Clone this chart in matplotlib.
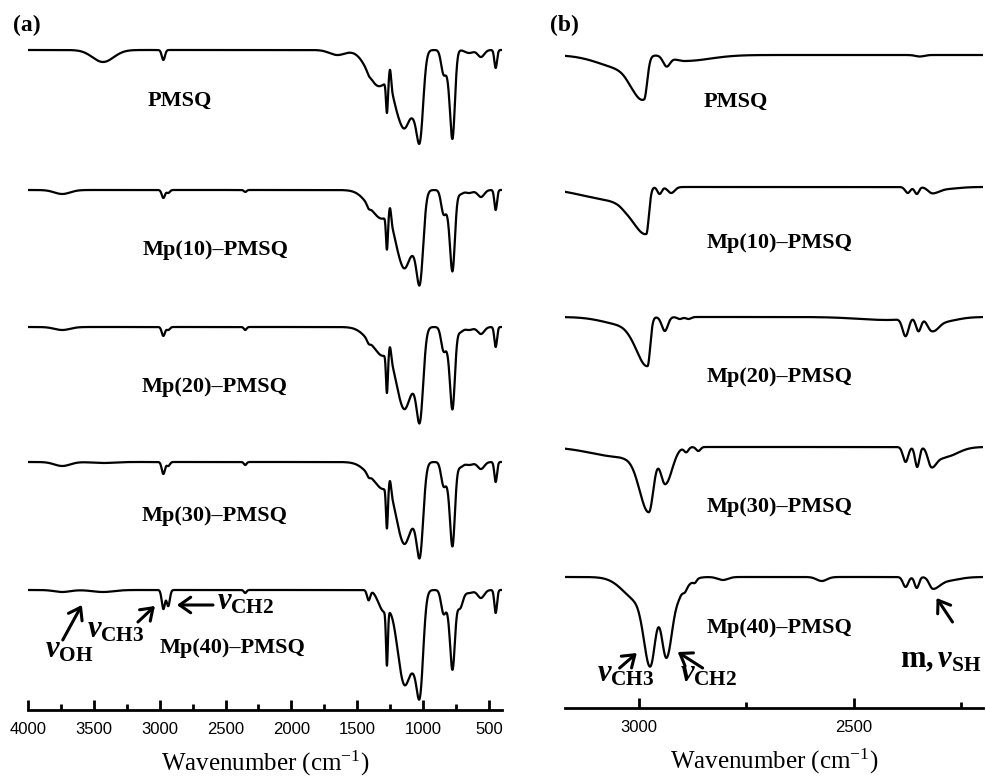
import numpy as np
import matplotlib
matplotlib.use("Agg")
import matplotlib.pyplot as plt
from matplotlib.ticker import MultipleLocator

# ---- panel (a): full range, bands shared by all traces (centre, width in cm-1)
A_CENTERS = [3430, 3740, 2972, 2935, 2350, 1650, 1413, 1335, 1300, 1274, 1250,
             1210, 1138, 1065, 1022, 845, 805, 775, 720, 650, 560, 448]
A_WIDTHS = [80, 60, 12, 12, 10, 60, 12, 85, 40, 7, 8,
            30, 57, 25, 25, 18, 20, 18, 22, 30, 25, 10]
# band depths per sample (negative = small upward lobe)
PMSQ_A = [12, 0, 10, 0, 0, 5, 2, 36, 0, 30, -17, 10, 75, 22, 77, 22, 20, 82, 0, 3, 7, 18]
MP10_A = [0, 4, 8, 3, 2, 0, 3, 24, 5, 32, -13, 8, 76, 18, 80, 22, 18, 75, 4, 3, 7, 20]
MP20_A = [0, 3, 9, 3, 3, 0, 3, 21, 8, 38, -11, 8, 80, 16, 81, 22, 18, 76, 5, 3, 7, 20]
MP30_A = [1, 4, 12, 4, 3, 0, 3, 19, 8, 40, -11, 8, 80, 16, 81, 22, 18, 78, 5, 3, 7, 20]
MP40_A = [2, 2, 19, 16, 3, 0, 10, 0, 20, 54, 0, 0, 95, 25, 89, 22, 15, 74, 18, 3, 8, 23]
OFFSETS_A = [660, 520, 383, 248, 120]

# ---- panel (b): C-H / S-H region, (centre, depth, width high side, width low side)
PMSQ_B = [(3030, 14, 60, 25), (2988, 41, 25, 7), (2936, 10, 8, 8),
          (2895, 6, 25, 60), (2347, 1.5, 10, 10)]
MP10_B = [(3040, 14, 90, 25), (2983, 46, 30, 6), (2952, 7, 5, 5), (2925, 6, 8, 8),
          (2375, 6, 6, 6), (2354, 7, 5, 5), (2318, 6, 10, 14), (2290, 2, 15, 30)]
MP20_B = [(3030, 8, 50, 25), (2980, 48, 25, 6), (2940, 14, 7, 7), (2905, 2, 6, 6),
          (2885, 2, 6, 6), (2420, 3, 70, 30), (2380, 18, 7, 7), (2350, 14, 6, 6),
          (2320, 12, 10, 14), (2300, 5, 15, 35)]
MP30_B = [(3040, 10, 70, 30), (2977, 64, 22, 11), (2939, 37, 11, 16), (2890, 5, 5, 5),
          (2862, 4, 5, 5), (2380, 15, 6, 6), (2353, 20, 5, 5), (2320, 19, 8, 12),
          (2290, 10, 15, 30)]
MP40_B = [(3000, 24, 35, 20), (2973, 79, 14, 12), (2936, 80, 12, 14), (2905, 14, 10, 20),
          (2893, 3, 4, 4), (2870, 3, 4, 4), (2805, 3, 12, 12), (2575, 4, 12, 12),
          (2380, 10, 6, 6), (2354, 11, 5, 5), (2317, 11, 8, 14), (2290, 4, 15, 30)]
OFFSETS_B = [653, 521, 391, 261, 131]

SAMPLES = ["PMSQ", "Mp(10)\u2013PMSQ", "Mp(20)\u2013PMSQ", "Mp(30)\u2013PMSQ", "Mp(40)\u2013PMSQ"]
LABEL_XY_A = [(3089, 604), (3127, 455), (3135, 318), (3135, 189), (2998, 57)]
LABEL_XY_B = [(2850, 601), (2843, 460), (2843, 326), (2843, 196), (2843, 75)]

plt.rcParams["font.family"] = ["Liberation Sans", "DejaVu Sans"]
plt.rcParams["mathtext.fontset"] = "custom"
plt.rcParams["mathtext.rm"] = "Liberation Serif"
plt.rcParams["mathtext.it"] = "Liberation Serif:italic:bold"
plt.rcParams["mathtext.bf"] = "Liberation Serif:bold"

SERIF = "Liberation Serif"


def band_sum(x, bands):
    total = np.zeros_like(x)
    for c, a, w_hi, w_lo in bands:
        w = np.where(x >= c, w_hi, w_lo)
        total += a * np.exp(-0.5 * ((x - c) / w) ** 2)
    return total


def style_axis(ax, xlim, ylim_top):
    ax.set_xlim(*xlim)
    ax.set_ylim(0, ylim_top)
    for side in ("left", "top", "right"):
        ax.spines[side].set_visible(False)
    ax.spines["bottom"].set_linewidth(2)
    ax.set_yticks([])
    ax.xaxis.set_major_locator(MultipleLocator(500))
    ax.xaxis.set_minor_locator(MultipleLocator(250))
    ax.tick_params(axis="x", which="major", direction="in", length=7, width=2,
                   labelsize=12, pad=9)
    ax.tick_params(axis="x", which="minor", direction="in", length=4, width=2)
    ax.set_xlabel("Wavenumber (cm$^{\\mathrm{-1}}$)", fontfamily=SERIF,
                  fontsize=18, labelpad=8)


def arrow(ax, tail, head):
    ax.annotate("", xy=head, xytext=tail,
                arrowprops=dict(arrowstyle="->,head_length=0.5,head_width=0.35",
                                lw=2.2, color="black", mutation_scale=16,
                                shrinkA=0, shrinkB=0))


fig = plt.figure(figsize=(9.87, 7.76), dpi=100)
ax_a = fig.add_axes([28 / 987, 66 / 776, 474 / 987, 690 / 776])
ax_b = fig.add_axes([565 / 987, 68 / 776, 418 / 987, 688 / 776])

# panel (a)
wn_a = np.linspace(4000, 400, 3601)
for depths, off, name, (lx, ly) in zip([PMSQ_A, MP10_A, MP20_A, MP30_A, MP40_A],
                                        OFFSETS_A, SAMPLES, LABEL_XY_A):
    bands = [(c, d, w, w) for c, d, w in zip(A_CENTERS, depths, A_WIDTHS)]
    ax_a.plot(wn_a, off - band_sum(wn_a, bands), color="black", lw=1.6)
    ax_a.text(lx, ly, name, fontfamily=SERIF, fontweight="bold", fontsize=16,
              ha="left", va="baseline")
style_axis(ax_a, (4000, 400), 690)

ax_a.text(3873, 53, r"$\mathit{\nu}_{\mathbf{OH}}$", fontsize=22, ha="left", va="baseline")
arrow(ax_a, (3736, 70), (3591, 105))
ax_a.text(3553, 72, r"$\mathit{\nu}_{\mathbf{CH3}}$", fontsize=22, ha="left", va="baseline")
arrow(ax_a, (3165, 88), (3036, 104))
ax_a.text(2562, 100, r"$\mathit{\nu}_{\mathbf{CH2}}$", fontsize=22, ha="left", va="baseline")
arrow(ax_a, (2595, 105), (2869, 105))

# panel (b)
wn_b = np.linspace(3172, 2200, 2000)
for bands, off, name, (lx, ly) in zip([PMSQ_B, MP10_B, MP20_B, MP30_B, MP40_B],
                                       OFFSETS_B, SAMPLES, LABEL_XY_B):
    ax_b.plot(wn_b, off - band_sum(wn_b, bands), color="black", lw=1.6)
    ax_b.text(lx, ly, name, fontfamily=SERIF, fontweight="bold", fontsize=16,
              ha="left", va="baseline")
style_axis(ax_b, (3172, 2200), 688)

ax_b.text(3098, 26, r"$\mathit{\nu}_{\mathbf{CH3}}$", fontsize=22, ha="left", va="baseline")
arrow(ax_b, (3045, 40), (3005, 55))
ax_b.text(2905, 26, r"$\mathit{\nu}_{\mathbf{CH2}}$", fontsize=22, ha="left", va="baseline")
arrow(ax_b, (2852, 40), (2910, 56))
ax_b.text(2203, 41, r"$\mathbf{m,}\mathit{\nu}_{\mathbf{SH}}$", fontsize=22,
          ha="right", va="baseline")
arrow(ax_b, (2271, 86), (2308, 110))

fig.text(13 / 987, 1 - 25 / 776, "(a)", fontfamily=SERIF, fontweight="bold",
         fontsize=17, ha="left", va="center")
fig.text(550 / 987, 1 - 25 / 776, "(b)", fontfamily=SERIF, fontweight="bold",
         fontsize=17, ha="left", va="center")

fig.savefig("out.png", dpi=100)
